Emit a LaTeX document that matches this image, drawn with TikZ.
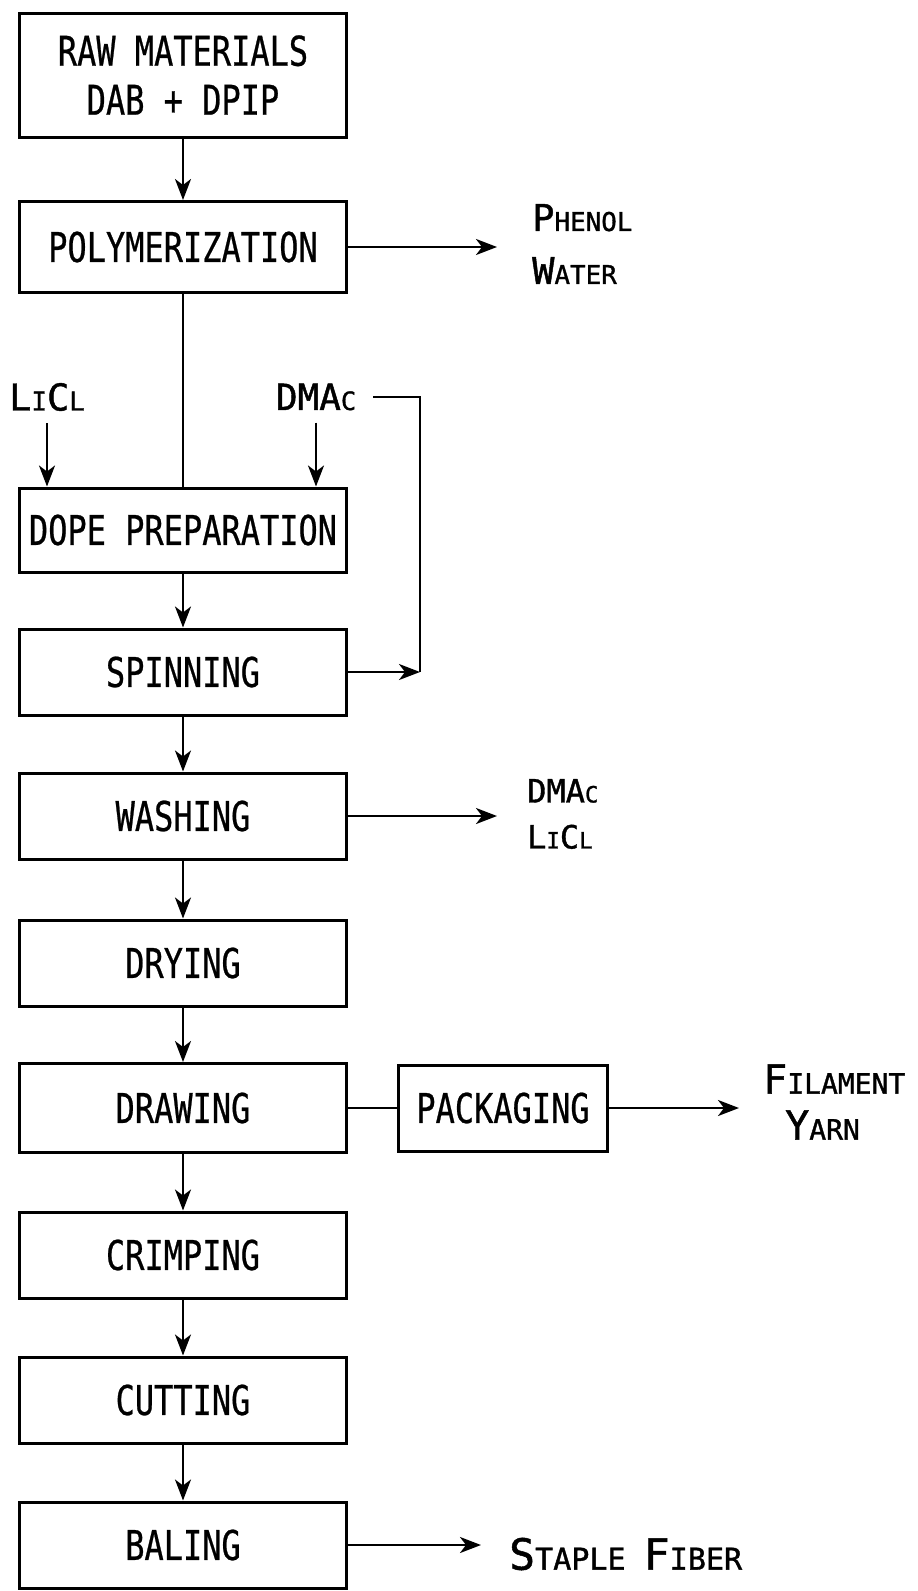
\documentclass[tikz,border=0pt]{standalone}
\usepackage{fontspec}
\newfontfamily\boxfont[FakeStretch=0.78, FakeBold=0.6]{DejaVu Sans Mono}
\newfontfamily\tagfont[FakeBold=1.2]{DejaVu Sans Mono}
\usetikzlibrary{positioning, arrows.meta}
\makeatletter
\newcommand\lc[1]{{\fontsize{\fpeval{0.7*\f@size}}{\f@baselineskip}\selectfont #1}}
\makeatother
\tikzset{
  box/.style={draw, line width=3pt, minimum width=327pt, minimum height=86pt,
    inner sep=0pt, align=center, font=\boxfont\fontsize{41}{49}\selectfont},
  tag/.style={inner sep=0pt, align=left},
  flow/.style={line width=2.4pt, -{Stealth[length=21pt, width=16pt, inset=6pt]}},
  link/.style={line width=2.4pt}
}

\begin{document}
\begin{tikzpicture}
	[x=1pt, y=-1pt, on grid, node distance=145pt]
   \useasboundingbox (0,0) rectangle (918,1591);
   % process line
   \node[box, minimum height=124pt] (raw) at (183,75) {RAW MATERIALS\\DAB + DPIP};
   \node[box, minimum height=91pt] (poly) [below=172pt of raw] {POLYMERIZATION};
   \node[box, minimum height=84pt] (dope) [below=283pt of poly] {DOPE PREPARATION};
   \node[box] (spin) [below=142pt of dope] {SPINNING};
   \node[box] (wash) [below=144pt of spin] {WASHING};
   \node[box] (dry) [below=147pt of wash] {DRYING};
   \node[box, minimum height=89pt] (drawing) [below=of dry] {DRAWING};
   \node[box, minimum width=209pt] (pack) [right=320pt of drawing] {PACKAGING};
   \node[box] (crimp) [below=147pt of drawing] {CRIMPING};
   \node[box] (cut) [below=of crimp] {CUTTING};
   \node[box] (bale) [below=of cut] {BALING};
   % streams in and out
   \node[tag, font=\tagfont\fontsize{37}{53}\selectfont, anchor=west] (phenol) at (532,244) {P\lc{HENOL}\\W\lc{ATER}};
   \node[tag, font=\tagfont\fontsize{37}{37}\selectfont] (licl) at (47,397) {L\lc{I}C\lc{L}};
   \node[tag, font=\tagfont\fontsize{36}{36}\selectfont] (dmac) at (316,397) {DMA\lc{C}};
   \node[tag, font=\tagfont\fontsize{32}{46}\selectfont, anchor=west] (wout) at (527,814) {DMA\lc{C}\\L\lc{I}C\lc{L}};
   \node[tag, font=\tagfont\fontsize{40}{46}\selectfont, anchor=west] (yarn) at (763,1102) {F\lc{ILAMENT}\\\hspace*{22pt}Y\lc{ARN}};
   \node[tag, font=\tagfont\fontsize{43}{43}\selectfont, anchor=west] (staple) at (509,1554) {S\lc{TAPLE }F\lc{IBER}};
   \coordinate (recycle) at (420,672);
    \path[flow]
    (raw) edge (poly)
    (dope) edge (spin)
    (spin) edge (wash)
    (wash) edge (dry)
    (dry) edge (drawing)
    (drawing) edge (crimp)
    (crimp) edge (cut)
    (cut) edge (bale)
    (licl) edge [shorten <=12pt] (licl |- dope.north)
    (dmac) edge [shorten <=12pt] (dmac |- dope.north)
    (poly.east) edge [shorten >=35pt] (poly.east -| phenol.west)
    (spin.east) edge (recycle)
    (wash.east) edge [shorten >=30pt] (wash.east -| wout.west)
    (pack.east) edge [shorten >=24pt] (pack.east -| yarn.west)
    (bale.east) edge [shorten >=28pt] (bale.east -| staple.west);
    \draw[link] (poly) -- (poly |- dope.north)
    (drawing) -- (pack)
    (recycle) |- ([xshift=17pt]dmac.east);
\end{tikzpicture}
\end{document}
